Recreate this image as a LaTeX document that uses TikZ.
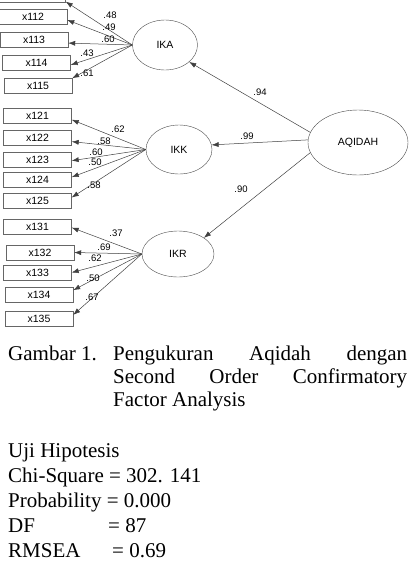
\documentclass[tikz,border=0pt]{standalone}
\usepackage{fontspec}
\setmainfont{Liberation Serif}
\setsansfont{Liberation Sans}
\usetikzlibrary{arrows.meta,shapes.geometric}

\begin{document}
\begin{tikzpicture}[x=1pt, y=-1pt, ->, >={Latex[length=7pt,width=5pt]},
    every edge/.style={draw=black!75, line width=0.5pt},
    ind/.style={draw=black!60, rectangle, minimum width=68pt, minimum height=15pt, inner sep=0pt,
        font=\sffamily\fontsize{10.5}{12}\selectfont},
    lat/.style={draw=black!70, ellipse, inner sep=0pt, font=\sffamily\fontsize{10.5}{12}\selectfont},
    coef/.style={inner sep=0pt, font=\sffamily\fontsize{9.5}{11}\selectfont},
    capt/.style={inner sep=0pt, anchor=base west, font=\fontsize{21}{23}\selectfont}]
    \useasboundingbox (0,0) rectangle (414,566);

    % latent variables
    \node[lat, minimum width=65pt, minimum height=50pt] (ika) at (165,45) {IKA};
    \node[lat, minimum width=66pt, minimum height=49pt] (ikk) at (179,149.5) {IKK};
    \node[lat, minimum width=72pt, minimum height=46pt] (ikr) at (178,254) {IKR};
    \node[lat, minimum width=100pt, minimum height=65pt] (aq) at (358,142.5) {AQIDAH};

    % indicators (top one runs off the page)
    \node[ind] (x111) at (31.5,-5) {};
    \node[ind] (x112) at (33,17) {x112};
    \node[ind] (x113) at (34,39.5) {x113};
    \node[ind] (x114) at (36.5,62.5) {x114};
    \node[ind] (x115) at (38,85.5) {x115};

    \node[ind] (x121) at (37.5,115.5) {x121};
    \node[ind] (x122) at (37.5,138) {x122};
    \node[ind] (x123) at (37.5,159.5) {x123};
    \node[ind] (x124) at (37.5,179.5) {x124};
    \node[ind] (x125) at (37.5,200.5) {x125};

    \node[ind] (x131) at (37.5,227) {x131};
    \node[ind] (x132) at (40,252.5) {x132};
    \node[ind] (x133) at (37.5,272.5) {x133};
    \node[ind] (x134) at (39,295) {x134};
    \node[ind] (x135) at (39,318.5) {x135};

    \path
    (ika.west) edge (x111.-11)
    (ika.west) edge (x112.-5)
    (ika.west) edge (x113.-6)
    (ika.west) edge (x114.-4)
    (ika.west) edge (x115.12)
    (ikk.west) edge (x121.-7)
    (ikk.west) edge (x122.-6)
    (ikk.west) edge (x123.-2)
    (ikk.west) edge (x124.4)
    (ikk.west) edge (x125.5)
    (ikr.west) edge (x131.-1)
    (ikr.west) edge (x132.0)
    (ikr.west) edge (x133.0)
    (ikr.west) edge (x134.8)
    (ikr.west) edge (x135.6)
    (aq.168) edge (ika.-35)
    (aq.177) edge (ikk.8)
    (aq.192) edge (ikr.32);

    % loadings
    \node[coef] (l111) at (110,15) {.48};
    \node[coef] (l112) at (109,27) {.49};
    \node[coef] (l113) at (108,39) {.60};
    \node[coef] (l114) at (87,53) {.43};
    \node[coef] (l115) at (87,73) {.61};
    \node[coef] (l121) at (118,129) {.62};
    \node[coef] (l122) at (104,141) {.58};
    \node[coef] (l123) at (96,152) {.60};
    \node[coef] (l124) at (95,162) {.50};
    \node[coef] (l125) at (94,185) {.58};
    \node[coef] (l131) at (116,233) {.37};
    \node[coef] (l132) at (104,247) {.69};
    \node[coef] (l133) at (95,258) {.62};
    \node[coef] (l134) at (93,278) {.50};
    \node[coef] (l135) at (92,297) {.67};
    \node[coef] (lika) at (260,92) {.94};
    \node[coef] (likk) at (247,136) {.99};
    \node[coef] (likr) at (241,189) {.90};

    % caption and fit
    \node[capt] (gbr) at (8,360) {Gambar 1.};
    \node[capt] (cap1) at (113,360) {\makebox[294pt][s]{Pengukuran Aqidah dengan}};
    \node[capt] (cap2) at (113,383) {\makebox[294pt][s]{Second Order Confirmatory}};
    \node[capt] (cap3) at (113,406) {Factor Analysis};

    \node[capt] (uji) at (8,457) {Uji Hipotesis};
    \node[capt] (chi) at (8,482) {Chi-Square = 302. 141};
    \node[capt] (prob) at (8,507) {Probability = 0.000};
    \node[capt] (df) at (8,532) {\makebox[100pt][l]{DF}= 87};
    \node[capt] (rmsea) at (8,557) {\makebox[104pt][l]{RMSEA}= 0.69};
\end{tikzpicture}
\end{document}
